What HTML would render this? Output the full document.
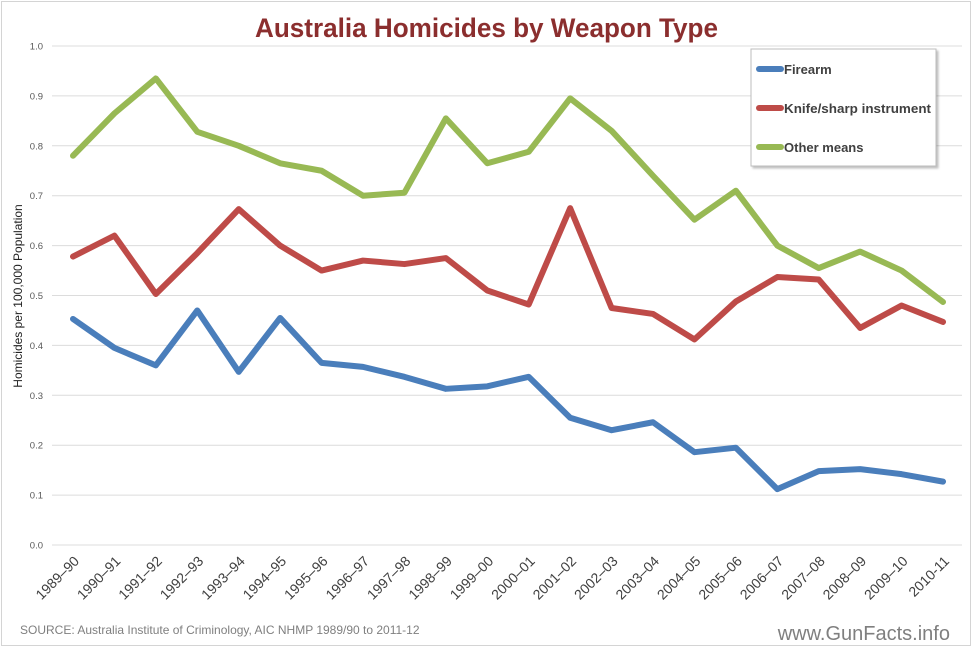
<!DOCTYPE html>
<html><head><meta charset="utf-8"><style>
html,body{margin:0;padding:0;background:#fff;}
svg{display:block;font-family:"Liberation Sans",sans-serif;}
</style></head><body>
<svg width="975" height="651" viewBox="0 0 975 651" xmlns="http://www.w3.org/2000/svg">
<rect x="1.5" y="1.5" width="969" height="644" fill="#fff" stroke="#d4d4d4" stroke-width="1"/>
<text x="255" y="37" textLength="463" lengthAdjust="spacingAndGlyphs" font-size="27" font-weight="bold" fill="#8b2e2e">Australia Homicides by Weapon Type</text>
<g id="grid" stroke="#dcdcdc" stroke-width="1"></g>
<g id="ylab" font-size="9.5" fill="#595959" text-anchor="end"></g>
<text transform="translate(22,296) rotate(-90)" text-anchor="middle" font-size="12" fill="#222">Homicides per 100,000 Population</text>
<g id="xlab" font-size="14" fill="#404040" text-anchor="end"></g>
<g id="series" fill="none" stroke-width="6" stroke-linecap="round" stroke-linejoin="round"></g>
<rect x="751" y="49" width="185" height="117" fill="#fff" stroke="#bdbdbd" stroke-width="1" filter="drop-shadow(2px 2px 1px rgba(0,0,0,0.25))"/>
<g stroke-width="6" stroke-linecap="round">
<line x1="759" y1="69" x2="781" y2="69" stroke="#4a7ebb"/>
<line x1="759" y1="108" x2="781" y2="108" stroke="#be4b48"/>
<line x1="759" y1="147" x2="781" y2="147" stroke="#98b954"/>
</g>
<g font-size="13" font-weight="bold" fill="#404040">
<text x="784" y="74">Firearm</text>
<text x="784" y="113" textLength="147" lengthAdjust="spacingAndGlyphs">Knife/sharp instrument</text>
<text x="784" y="152">Other means</text>
</g>
<text x="20" y="634" font-size="12" fill="#7f7f7f">SOURCE: Australia Institute of Criminology, AIC NHMP 1989/90 to 2011-12</text>
<text x="950" y="640" text-anchor="end" font-size="20" fill="#7f7f7f">www.GunFacts.info</text>
</svg>
<script>
const ns="http://www.w3.org/2000/svg";
const y0=545,py=499,x0=73,dx=41.43;
const Y=v=>y0-v*py, X=i=>x0+i*dx;
const g=document.getElementById('grid'),yl=document.getElementById('ylab');
for(let i=0;i<=10;i++){const v=i/10,y=Y(v);
 const l=document.createElementNS(ns,'line');l.setAttribute('x1',52);l.setAttribute('x2',962);l.setAttribute('y1',y);l.setAttribute('y2',y);g.appendChild(l);
 const t=document.createElementNS(ns,'text');t.setAttribute('x',43);t.setAttribute('y',y+3.5);t.textContent=v.toFixed(1);yl.appendChild(t);}
const labs=["1989–90","1990–91","1991–92","1992–93","1993–94","1994–95","1995–96","1996–97","1997–98","1998–99","1999–00","2000–01","2001–02","2002–03","2003–04","2004–05","2005–06","2006–07","2007–08","2008–09","2009–10","2010-11"];
const xl=document.getElementById('xlab');
labs.forEach((s,i)=>{const t=document.createElementNS(ns,'text');const x=X(i)+7,y=562;t.setAttribute('transform',`translate(${x},${y}) rotate(-45)`);t.textContent=s;xl.appendChild(t);});
const data=[
["#98b954",[0.78,0.865,0.935,0.828,0.8,0.765,0.75,0.7,0.706,0.855,0.765,0.788,0.895,0.83,0.74,0.652,0.71,0.6,0.555,0.588,0.55,0.487]],
["#be4b48",[0.578,0.62,0.503,0.585,0.673,0.6,0.55,0.57,0.563,0.575,0.51,0.482,0.675,0.475,0.463,0.412,0.488,0.537,0.532,0.435,0.48,0.447]],
["#4a7ebb",[0.453,0.395,0.36,0.47,0.347,0.455,0.365,0.357,0.337,0.313,0.318,0.337,0.255,0.23,0.246,0.186,0.195,0.112,0.148,0.152,0.142,0.127]]];
const s=document.getElementById('series');
data.forEach(([c,d])=>{const p=document.createElementNS(ns,'polyline');p.setAttribute('points',d.map((v,i)=>X(i)+','+Y(v)).join(' '));p.setAttribute('stroke',c);s.appendChild(p);});
</script>
</body></html>
